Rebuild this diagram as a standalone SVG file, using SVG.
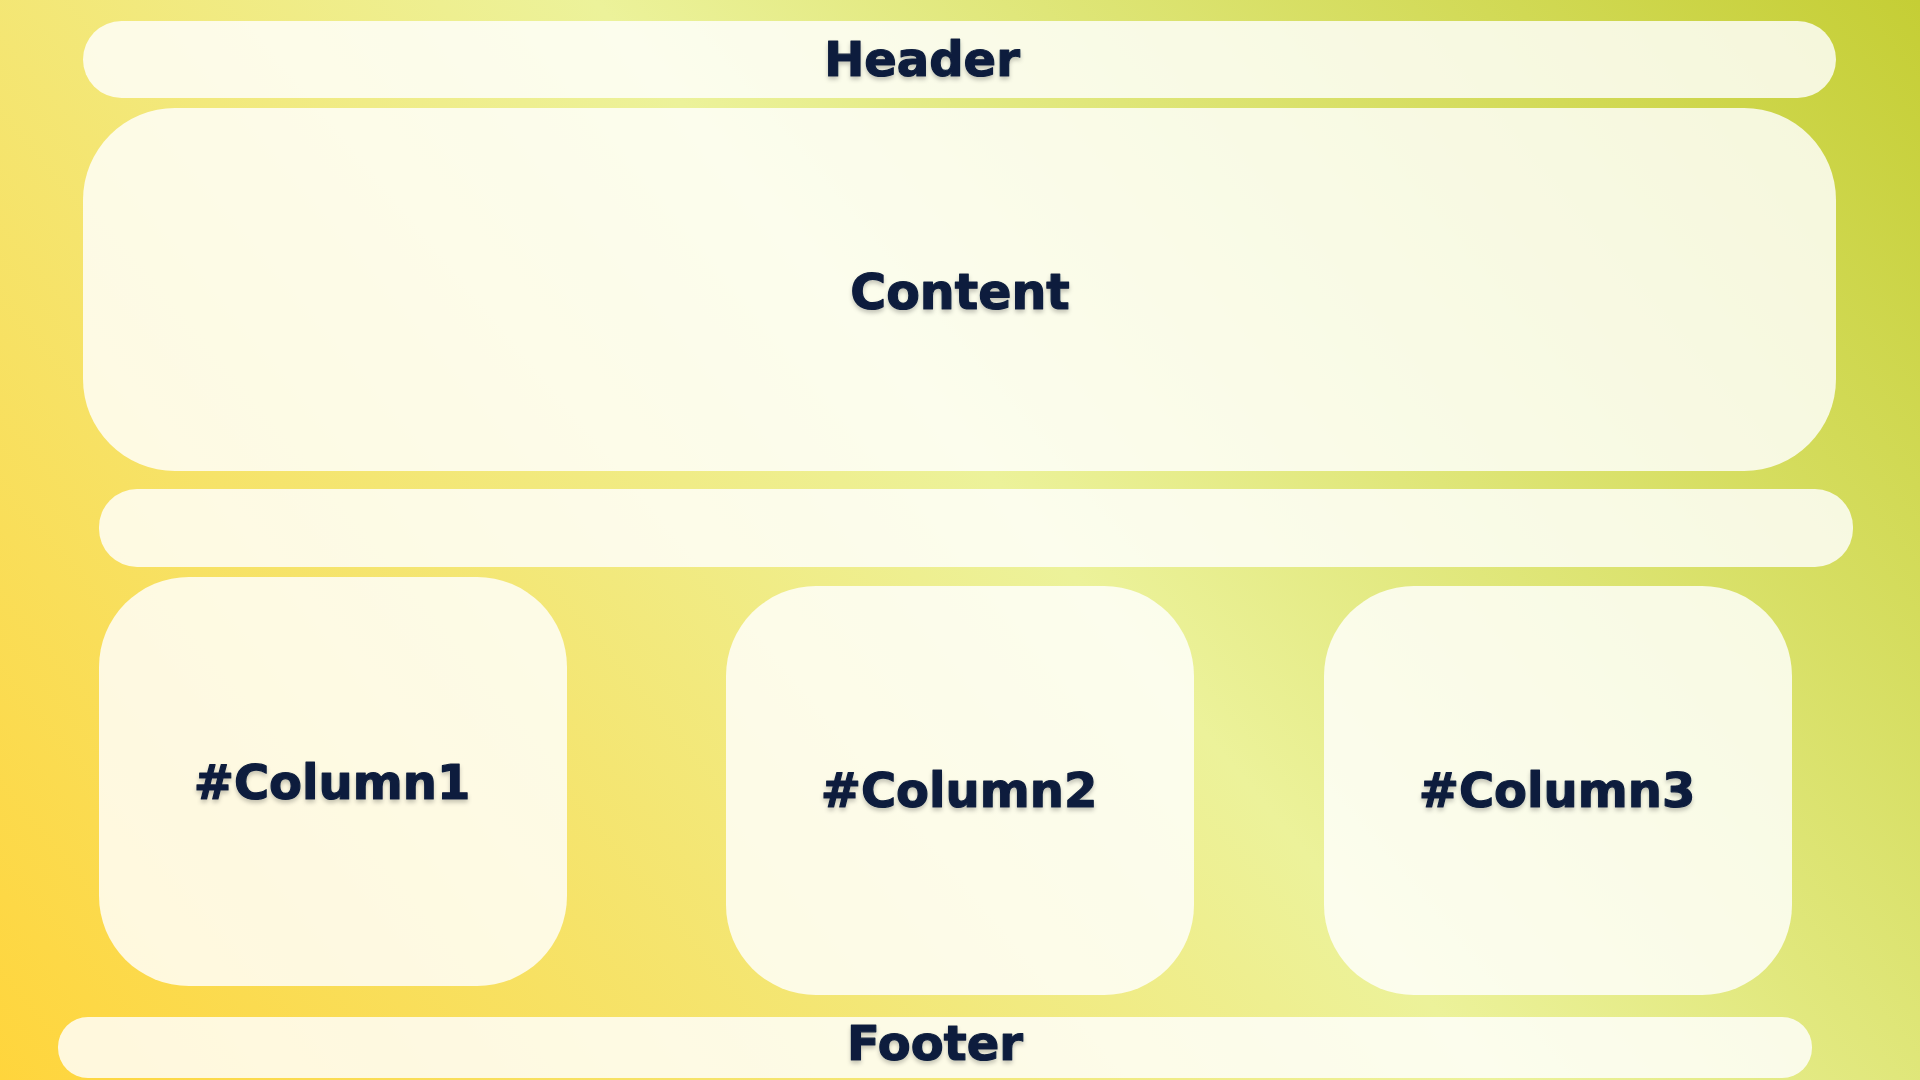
<svg xmlns="http://www.w3.org/2000/svg" width="1920" height="1080" viewBox="0 0 1920 1080">
  <defs>
    <linearGradient id="bg" gradientUnits="userSpaceOnUse" x1="0" y1="1080" x2="1664" y2="-306">
      <stop offset="0" stop-color="#ffd53c"/>
      <stop offset="0.53" stop-color="#ecf29a"/>
      <stop offset="1" stop-color="#c5ce35"/>
    </linearGradient>
    <filter id="ts" x="-10%" y="-30%" width="120%" height="160%">
      <feDropShadow dx="0" dy="3" stdDeviation="2" flood-color="#000000" flood-opacity="0.22"/>
    </filter>
  </defs>
  <style>
    .box { fill: #ffffff; fill-opacity: 0.82; }
    .lbl { font-family: "DejaVu Sans", "Liberation Sans", sans-serif; font-weight: bold; font-size: 48px; fill: #0f1f3d; stroke: #0f1f3d; stroke-width: 1.2px; stroke-linejoin: round; text-anchor: middle; filter: url(#ts); }
  </style>
  <rect x="0" y="0" width="1920" height="1080" fill="url(#bg)"/>
  <g id="connectors"></g>
  <g id="header">
    <rect class="box" x="83" y="21" width="1753" height="77" rx="38.5"/>
    <text class="lbl" x="922" y="76">Header</text>
  </g>
  <g id="content">
    <rect class="box" x="83" y="108" width="1753" height="363" rx="92"/>
    <text class="lbl" x="960" y="309" style="font-size:49px">Content</text>
  </g>
  <g id="bar">
    <rect class="box" x="99" y="489" width="1754" height="78" rx="38"/>
  </g>
  <g id="column1">
    <rect class="box" x="99" y="577" width="468" height="409" rx="90"/>
    <text class="lbl" x="332" y="799">#Column1</text>
  </g>
  <g id="column2">
    <rect class="box" x="726" y="586" width="468" height="409" rx="90"/>
    <text class="lbl" x="959" y="807">#Column2</text>
  </g>
  <g id="column3">
    <rect class="box" x="1324" y="586" width="468" height="409" rx="90"/>
    <text class="lbl" x="1557" y="807">#Column3</text>
  </g>
  <g id="footer">
    <rect class="box" x="58" y="1017" width="1754" height="61" rx="30"/>
    <text class="lbl" x="935" y="1060">Footer</text>
  </g>
</svg>
